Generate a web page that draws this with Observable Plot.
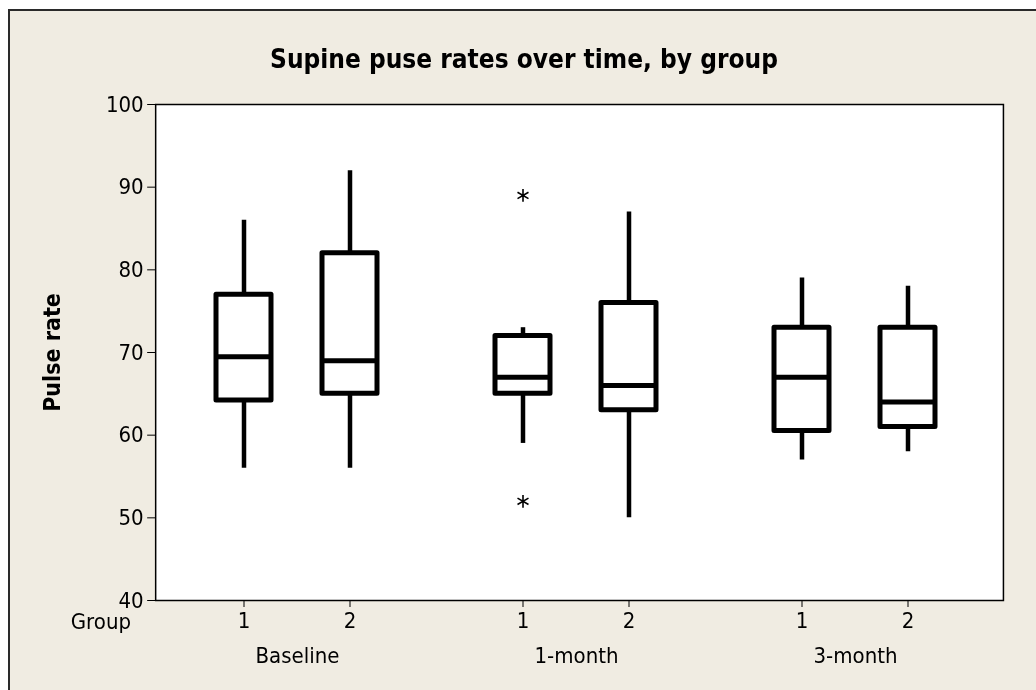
<!DOCTYPE html>
<html>
<head>
<meta charset="utf-8">
<script src="https://cdn.jsdelivr.net/npm/d3@7"></script>
<script src="https://cdn.jsdelivr.net/npm/@observablehq/plot@0.6"></script>
<style>
  html, body { margin: 0; padding: 0; background: #ffffff; overflow: hidden; }
  #panel { position: fixed; left: 8px; top: 9px; right: -200px; bottom: -200px;
           background: #F0ECE2; border-left: 2px solid #2a2a2a; border-top: 2px solid #2a2a2a; }
  #title { position: absolute; left: 6px; top: 44px; width: 1036px; text-align: center;
           font-family: "DejaVu Sans Condensed", "DejaVu Sans", sans-serif; font-stretch: condensed;
           font-weight: bold; font-size: 26px; line-height: 30px; color: #000; }
  #grouplab { position: absolute; left: 40px; top: 610px; width: 91px; text-align: right;
           font-family: "DejaVu Sans Condensed", "DejaVu Sans", sans-serif; font-stretch: condensed;
           font-size: 22px; line-height: 24px; color: #000; }
  #chart { position: absolute; left: 0; top: 0; }
  #chart svg [aria-label="y-axis label"] text { font-weight: bold; font-size: 23px; }
</style>
</head>
<body>
<div id="panel"></div>
<div id="chart"></div>
<div id="title">Supine puse rates over time, by group</div>
<div id="grouplab">Group</div>
<script>
// Data
const periodOrder = ["Baseline", "1-month", "3-month"];
const groupOrder = ["1", "2"];
const periods = ["Baseline", "Baseline", "1-month", "1-month", "3-month", "3-month"];
const groups = ["1", "2", "1", "2", "1", "2"];
const whiskerLow = [56, 56, 59, 50, 57, 58];
const q1 = [64.2, 65, 65, 63, 60.5, 61];
const median = [69.5, 69, 67, 66, 67, 64];
const q3 = [77, 82, 72, 76, 73, 73];
const whiskerHigh = [86, 92, 73, 87, 79, 78];
const outlierPeriods = ["1-month", "1-month"];
const outlierGroups = ["1", "1"];
const outlierValues = [89, 52];
const yTicks = [40, 50, 60, 70, 80, 90, 100];

const rows = periods.map((p, i) => ({
  period: p, group: groups[i], lo: whiskerLow[i], q1: q1[i], med: median[i], q3: q3[i], hi: whiskerHigh[i]
}));
const outRows = outlierValues.map((v, i) => ({ period: outlierPeriods[i], group: outlierGroups[i], value: v }));

const font = '"DejaVu Sans Condensed", "DejaVu Sans", sans-serif';

// fx band layout: outer padding split unevenly (align), frame extended to the full plot area
const W = 1036, mL = 155, mR = 33;
const fxPad = 0.039, fxAlign = 0.36;
const step = (W - mL - mR) / (periodOrder.length - fxPad + 2 * fxPad);
const outerTotal = 2 * fxPad * step;
const leftGap = outerTotal * fxAlign, rightGap = outerTotal * (1 - fxAlign);

const chart = Plot.plot({
  width: W,
  height: 690,
  marginLeft: mL,
  marginRight: mR,
  marginTop: 104,
  marginBottom: 90,
  style: { background: "transparent", fontFamily: font, fontSize: "22px", color: "black", fontStretch: "condensed" },
  fx: { domain: periodOrder, paddingInner: fxPad, paddingOuter: fxPad, align: fxAlign, label: null },
  x: { domain: groupOrder, paddingInner: 0.48, paddingOuter: 0.504, label: null },
  y: { domain: [40, 100], label: "Pulse rate" },
  marks: [
    Plot.frame({ facet: "super", fill: "white", stroke: "black", strokeWidth: 1.5,
                 insetLeft: -leftGap, insetRight: -rightGap }),
    Plot.axisY({ ticks: yTicks, tickSize: 8, tickPadding: 4, label: "Pulse rate", labelAnchor: "center",
                 labelArrow: "none", labelOffset: 120, fontSize: 22, dx: -leftGap }),
    Plot.axisX({ tickSize: 7, tickPadding: 5, label: null, fontSize: 22 }),
    Plot.axisFx({ anchor: "bottom", tickSize: 0, tickPadding: 47, label: null, fontSize: 22 }),
    Plot.ruleX(rows, { fx: "period", x: "group", y1: "lo", y2: "hi", stroke: "black", strokeWidth: 4.5 }),
    Plot.barY(rows, { fx: "period", x: "group", y1: "q1", y2: "q3", fill: "white", stroke: "black",
                      strokeWidth: 5, strokeLinejoin: "round" }),
    Plot.tickY(rows, { fx: "period", x: "group", y: "med", stroke: "black", strokeWidth: 5 }),
    Plot.dot(outRows, { fx: "period", x: "group", y: "value", symbol: "asterisk", r: 6,
                        stroke: "black", strokeWidth: 1.6 })
  ]
});
document.getElementById("chart").appendChild(chart);
</script>
</body>
</html>
